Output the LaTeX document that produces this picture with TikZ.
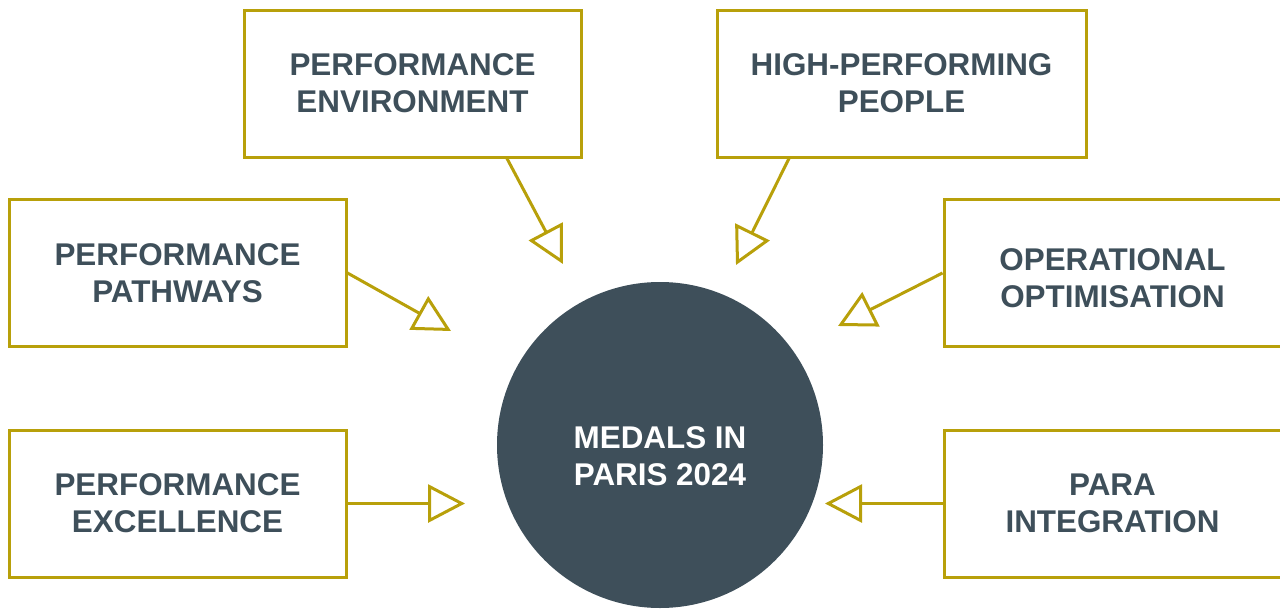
\documentclass[tikz,border=0pt]{standalone}
\usepackage{fontspec}
\setmainfont{Liberation Sans}
\usetikzlibrary{arrows.meta}
\definecolor{gold}{HTML}{B8A00A}
\definecolor{slate}{HTML}{3E4F5A}

\begin{document}
\begin{tikzpicture}[x=1pt,y=-1pt,
  pillar/.style={draw=gold, line width=3pt, minimum width=337pt, minimum height=147pt,
    inner sep=0pt, align=center, text=slate, font=\fontsize{31.4}{37}\selectfont\bfseries},
  feed/.style={draw=gold, line width=3pt, -{Triangle[open,length=37pt,width=38pt]}}]
\useasboundingbox (0,0) rectangle (1280,608);

\node[circle, fill=slate, minimum size=326pt, inner sep=0pt] (medals) at (660,445) {};
\node[align=center, text=white, font=\fontsize{31.4}{37}\selectfont\bfseries] (goal) at (660,456) {MEDALS IN\\PARIS 2024};

\node[pillar] (env) at (412.5,83.5) {PERFORMANCE\\ENVIRONMENT};
\node[pillar, minimum width=369pt] (people) at (901.5,83.5) {HIGH-PERFORMING\\PEOPLE};
\node[pillar] (path) at (177.5,273) {PERFORMANCE\\PATHWAYS};
\node[pillar] (ops) at (1112.5,273) {\raisebox{-15pt}[0pt][0pt]{\begin{tabular}{@{}c@{}}OPERATIONAL\\OPTIMISATION\end{tabular}}};
\node[pillar] (excel) at (177.5,503.5) {PERFORMANCE\\EXCELLENCE};
\node[pillar] (para) at (1112.5,503.5) {PARA\\INTEGRATION};

\coordinate (envtip) at (563,264);
\coordinate (peopletip) at (736,265);
\coordinate (pathtip) at (451,331);
\coordinate (opstip) at (838,326);
\coordinate (exceltip) at (465,503.5);
\coordinate (paratip) at (825,503.5);

\draw[feed] ([xshift=94.5pt]env.south) -- (envtip);
\draw[feed] ([xshift=-112.5pt]people.south) -- (peopletip);
\draw[feed] (path.east) -- (pathtip);
\draw[feed] (ops.west) -- (opstip);
\draw[feed] (excel.east) -- (exceltip);
\draw[feed] (para.west) -- (paratip);
\end{tikzpicture}
\end{document}
